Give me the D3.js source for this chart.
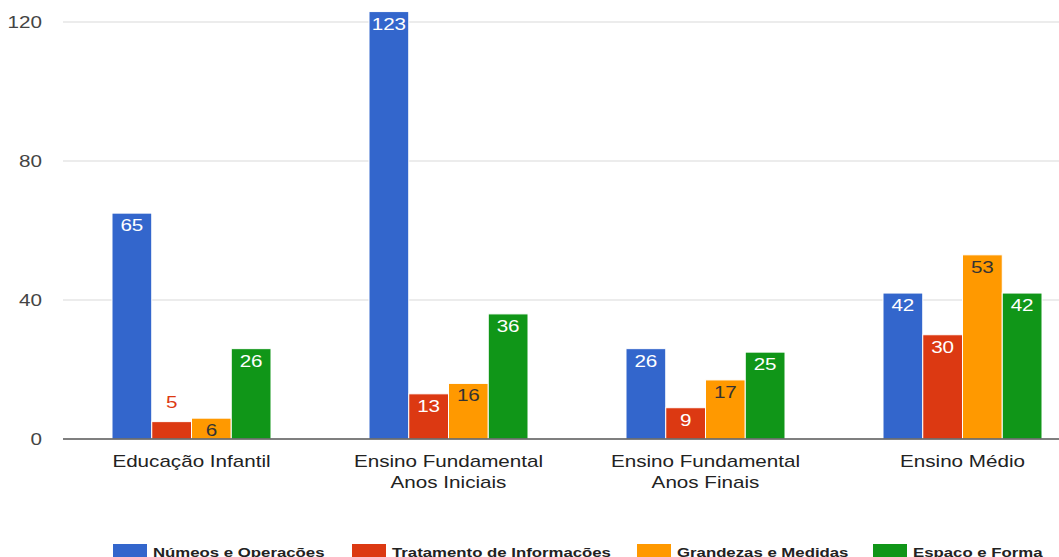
<!DOCTYPE html>
<html><head><meta charset="utf-8">
<script src="https://cdn.jsdelivr.net/npm/d3@7"></script>
<style>body{margin:0;background:#fff;overflow:hidden}svg{display:block;font-family:"Liberation Sans",Arial,sans-serif}</style>
</head><body><svg id="c" width="1059" height="557"></svg>
<script>
const categories = [["Educação Infantil"],["Ensino Fundamental","Anos Iniciais"],["Ensino Fundamental","Anos Finais"],["Ensino Médio"]];
const seriesNames = ["Númeos e Operações","Tratamento de Informações","Grandezas e Medidas","Espaço e Forma"];
const numeros = [65,123,26,42];
const tratamento = [5,13,9,30];
const grandezas = [6,16,17,53];
const espaco = [26,36,25,42];
const yTicks = [0,40,80,120];
const colors = ["#3366cc","#dc3912","#ff9900","#109618"];
const labelColors = ["#ffffff","#ffffff","#333333","#ffffff"];
const series = [numeros,tratamento,grandezas,espaco];
const SX = 1.29;

const svg = d3.select("#c");
const x0 = d3.scaleBand().domain(d3.range(categories.length)).range([63,1091]).paddingInner(0).paddingOuter(0);
const y = d3.scaleLinear().domain([0,120]).range([439,22]);
const groupW = 159;
const x1 = d3.scaleBand().domain(d3.range(series.length)).range([0,groupW]).padding(0);

function stext(sel, x, yy){
  return sel.append("text").attr("transform",`translate(${x},${yy}) scale(${SX},1)`);
}

// grid
svg.append("g").selectAll("line").data(yTicks.filter(d=>d>0)).join("line")
  .attr("x1",63).attr("x2",1059).attr("y1",d=>y(d)).attr("y2",d=>y(d))
  .attr("stroke","#d9d9d9").attr("stroke-width",1.2);
// y axis labels
const ya = svg.append("g");
yTicks.forEach(t=>{
  stext(ya, 42, y(t)+6).attr("text-anchor","end").attr("font-size",16).attr("fill","#444").text(t);
});

// bars
const groups = svg.append("g").selectAll("g").data(categories).join("g")
  .attr("transform",(d,i)=>`translate(${x0(i)+x0.bandwidth()/2-groupW/2},0)`);
groups.each(function(c,i){
  const g = d3.select(this);
  series.forEach((s,j)=>{
    const v = s[i];
    g.append("rect").attr("x",x1(j)).attr("y",y(v)).attr("width",x1.bandwidth()).attr("height",y(0)-y(v))
      .attr("fill",colors[j]).attr("stroke","#fff").attr("stroke-width",1);
    const inside = (y(0)-y(v)) > 20;
    stext(g, x1(j)+x1.bandwidth()/2, inside ? y(v)+18 : y(v)-14)
      .attr("text-anchor","middle").attr("font-size",16)
      .attr("fill", inside ? labelColors[j] : colors[j]).text(v);
  });
});

// baseline
svg.append("line").attr("x1",63).attr("x2",1059).attr("y1",y(0)).attr("y2",y(0)).attr("stroke","#555").attr("stroke-width",1.3);

// x labels
const xg = svg.append("g");
categories.forEach((d,i)=>{
  d.forEach((line,k)=>{
    stext(xg, x0(i)+x0.bandwidth()/2, 467+k*21).attr("text-anchor","middle").attr("font-size",16).attr("fill","#222").text(line);
  });
});

// legend
const legX = [113,352,637,873];
const lg = svg.append("g").selectAll("g").data(seriesNames).join("g").attr("transform",(d,i)=>`translate(${legX[i]},544)`);
lg.append("rect").attr("width",34).attr("height",13).attr("fill",(d,i)=>colors[i]);
lg.each(function(d){
  stext(d3.select(this), 40, 13).attr("font-size",13).attr("font-weight","bold").attr("fill","#222").text(d);
});
</script></body></html>
